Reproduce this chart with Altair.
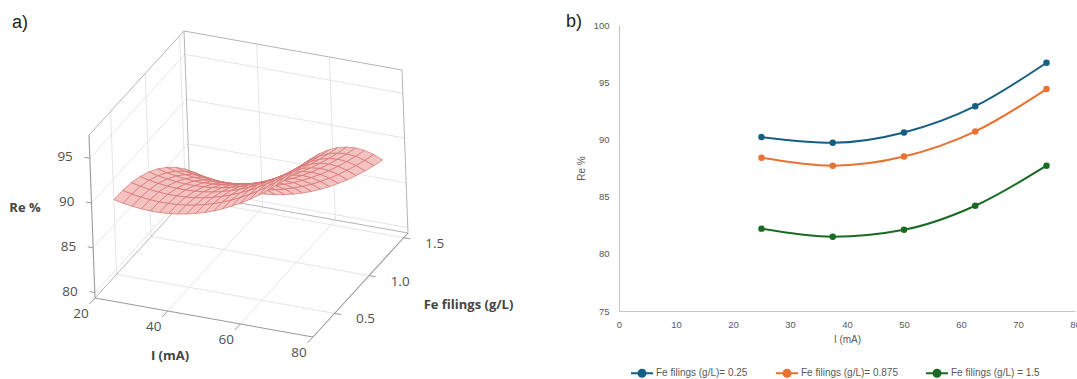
import altair as alt
import pandas as pd

# ---------------- data ----------------
# panel b: Re % versus current at three Fe filings doses
current_mA = [25, 37.5, 50, 62.5, 75]
series_names = ["Fe filings (g/L)= 0.25", "Fe filings (g/L)= 0.875", "Fe filings (g/L) = 1.5"]
re_fe_025 = [90.2, 89.7, 90.6, 92.9, 96.7]
re_fe_0875 = [88.4, 87.7, 88.5, 90.7, 94.4]
re_fe_150 = [82.2, 81.5, 82.1, 84.2, 87.7]
series_colors = ["#156082", "#e97132", "#196b24"]

# panel a: response surface grid (rows = Fe filings, columns = current)
surf_current = [25, 27.5, 30, 32.5, 35, 37.5, 40, 42.5, 45, 47.5, 50,
                52.5, 55, 57.5, 60, 62.5, 65, 67.5, 70, 72.5, 75]
surf_fe = [0.25, 0.375, 0.5, 0.625, 0.75, 0.875, 1.0, 1.125, 1.25, 1.375, 1.5]
surf_re = [
    [90.22, 90.00, 89.84, 89.73, 89.68, 89.69, 89.76, 89.88, 90.07, 90.30, 90.60, 90.95, 91.37, 91.83, 92.36, 92.94, 93.58, 94.28, 95.04, 95.85, 96.72],
    [90.19, 89.96, 89.80, 89.69, 89.63, 89.64, 89.70, 89.82, 89.99, 90.23, 90.52, 90.87, 91.27, 91.74, 92.26, 92.84, 93.47, 94.17, 94.92, 95.72, 96.59],
    [90.00, 89.77, 89.60, 89.49, 89.42, 89.43, 89.48, 89.60, 89.76, 89.99, 90.28, 90.63, 91.02, 91.49, 92.00, 92.58, 93.20, 93.90, 94.64, 95.44, 96.30],
    [89.63, 89.39, 89.22, 89.10, 89.03, 89.03, 89.08, 89.19, 89.35, 89.58, 89.86, 90.20, 90.59, 91.05, 91.56, 92.13, 92.75, 93.44, 94.18, 94.97, 95.83],
    [89.08, 88.84, 88.66, 88.54, 88.46, 88.46, 88.50, 88.61, 88.76, 88.99, 89.26, 89.60, 89.98, 90.44, 90.94, 91.51, 92.12, 92.81, 93.54, 94.33, 95.18],
    [88.37, 88.12, 87.94, 87.81, 87.73, 87.72, 87.76, 87.86, 88.01, 88.23, 88.50, 88.83, 89.21, 89.66, 90.16, 90.72, 91.33, 92.01, 92.74, 93.52, 94.37],
    [87.48, 87.23, 87.04, 86.91, 86.82, 86.81, 86.84, 86.94, 87.08, 87.30, 87.56, 87.89, 88.26, 88.71, 89.20, 89.76, 90.36, 91.04, 91.76, 92.54, 93.38],
    [86.43, 86.17, 85.98, 85.84, 85.75, 85.73, 85.76, 85.85, 85.99, 86.20, 86.46, 86.78, 87.15, 87.59, 88.08, 88.63, 89.23, 89.90, 90.62, 91.39, 92.23],
    [85.20, 84.94, 84.74, 84.60, 84.50, 84.48, 84.50, 84.59, 84.72, 84.92, 85.18, 85.50, 85.86, 86.30, 86.78, 87.33, 87.92, 88.59, 89.30, 90.07, 90.90],
    [83.79, 83.52, 83.32, 83.17, 83.07, 83.04, 83.06, 83.14, 83.27, 83.47, 83.72, 84.03, 84.39, 84.82, 85.30, 85.84, 86.43, 87.09, 87.80, 88.56, 89.39],
    [82.22, 81.95, 81.74, 81.59, 81.48, 81.45, 81.46, 81.54, 81.66, 81.86, 82.10, 82.41, 82.76, 83.19, 83.66, 84.20, 84.78, 85.44, 86.14, 86.90, 87.72],
]

# 3-D box of panel a
box_current = [20, 80]
box_fe = [0.1875, 1.5625]
box_re = [79.4, 97.6]
ticks_current = [20, 40, 60, 80]
ticks_fe = [0.5, 1.0, 1.5]
ticks_re = [80, 85, 90, 95]

# ---------------- 3-D projection (layout) ----------------
ORIGIN = (95.0, 298.0)
U_I = (218.0 / 60, 39.0 / 60)
U_FE = (95.0 / 1.375, -104.0 / 1.375)
U_RE = (-6.0 / 18.2, -163.0 / 18.2)
I0, I1 = box_current
F0, F1 = box_fe
Z0, Z1 = box_re


def proj(i, f, z):
    di, dfe, dz = i - I0, f - F0, z - Z0
    return (ORIGIN[0] + di * U_I[0] + dfe * U_FE[0] + dz * U_RE[0],
            ORIGIN[1] + di * U_I[1] + dfe * U_FE[1] + dz * U_RE[1])


segs = []


def seg(kind, p, q):
    (xa, ya), (xb, yb) = proj(*p), proj(*q)
    segs.append(dict(kind=kind, x=xa, y=ya, x2=xb, y2=yb))


for i in ticks_current[1:-1]:
    seg("grid", (i, F1, Z0), (i, F1, Z1))
    seg("grid", (i, F0, Z0), (i, F1, Z0))
for f in ticks_fe:
    seg("grid", (I0, f, Z0), (I0, f, Z1))
    seg("grid", (I0, f, Z0), (I1, f, Z0))
for z in ticks_re:
    seg("grid", (I0, F1, z), (I1, F1, z))
    seg("grid", (I0, F0, z), (I0, F1, z))
seg("edge", (I0, F0, Z1), (I0, F1, Z1))
seg("edge", (I0, F1, Z1), (I1, F1, Z1))
seg("edge", (I0, F1, Z0), (I0, F1, Z1))
seg("edge", (I1, F1, Z0), (I1, F1, Z1))
seg("edge", (I0, F1, Z0), (I1, F1, Z0))
seg("edge", (I0, F0, Z0), (I0, F1, Z0))
seg("axis", (I1, F0, Z0), (I1, F1, Z0))
seg("axis", (I0, F0, Z0), (I0, F0, Z1))
seg("axis", (I0, F0, Z0), (I1, F0, Z0))
for z in ticks_re:
    seg("tick", (I0, F0, z), (I0 - 1.5, F0, z))
for i in ticks_current:
    seg("tick", (i, F0, Z0), (i, F0 - 0.08, Z0))
for f in ticks_fe:
    seg("tick", (I1, f, Z0), (I1 + 1.8, f, Z0))
segs_df = pd.DataFrame(segs)

# surface cells, painted back to front
cells = []
for j in range(len(surf_fe) - 1):
    for i in range(len(surf_current) - 1):
        ic = (surf_current[i] + surf_current[i + 1]) / 2
        fc = (surf_fe[j] + surf_fe[j + 1]) / 2
        cells.append((proj(ic, fc, Z0)[1], i, j))
cells.sort()
rows = []
for rank, (_, i, j) in enumerate(cells):
    for k, (a, b) in enumerate([(i, j), (i + 1, j), (i + 1, j + 1), (i, j + 1), (i, j)]):
        x, y = proj(surf_current[a], surf_fe[b], surf_re[b][a])
        rows.append(dict(cell=f"c{rank:04d}", k=k, x=x, y=y))
surf_df = pd.DataFrame(rows)

# labels of panel a
tick_lab = []
for z in ticks_re:
    x, y = proj(I0, F0, z)
    tick_lab.append(dict(x=x - 17, y=y - 1, text=str(z), al="right"))
for i in ticks_current:
    x, y = proj(i, F0, Z0)
    tick_lab.append(dict(x=x - 14, y=y + 16, text=str(i), al="center"))
for f in ticks_fe:
    x, y = proj(I1, f, Z0)
    tick_lab.append(dict(x=x + 31, y=y + 6, text=f"{f:.1f}", al="center"))
tick_df = pd.DataFrame(tick_lab)

tx, ty = proj(I0, F0, (Z0 + Z1) / 2)
ix, iy = proj((I0 + I1) / 2, F0, Z0)
fx, fy = proj(I1, (F0 + F1) / 2, Z0)
title_df = pd.DataFrame([
    dict(x=tx - 67, y=ty - 9, text="Re %"),
    dict(x=ix - 34, y=iy + 38, text="I (mA)"),
    dict(x=fx + 108, y=fy + 20, text="Fe filings (g/L)"),
])
panel_lab_df = pd.DataFrame([dict(x=20, y=23, text="a)"), dict(x=574, y=22, text="b)")])

# ---------------- charts ----------------
PX = alt.X("x:Q", scale=alt.Scale(domain=[619, 1075], nice=False, zero=False), axis=None)
PY = alt.Y("y:Q", scale=alt.Scale(domain=[311, 25], nice=False, zero=False), axis=None)


def rules(kind, color, width):
    return alt.Chart(segs_df).transform_filter(alt.datum.kind == kind).mark_rule(
        color=color, strokeWidth=width).encode(x=PX, y=PY, x2="x2:Q", y2="y2:Q")


surface = alt.Chart(surf_df).mark_line(
    fill="#f3c3c1", stroke="#d5716f", strokeWidth=0.7, strokeJoin="round"
).encode(x=PX, y=PY, detail="cell:N", order=alt.Order("k:Q"))

tick_r = alt.Chart(tick_df).transform_filter(alt.datum.al == "right").mark_text(
    align="right", baseline="middle", font="Open Sans", fontSize=13.5, color="#505050"
).encode(x=PX, y=PY, text="text:N")
tick_c = alt.Chart(tick_df).transform_filter(alt.datum.al == "center").mark_text(
    align="center", baseline="middle", font="Open Sans", fontSize=13.5, color="#505050"
).encode(x=PX, y=PY, text="text:N")
titles_a = alt.Chart(title_df).mark_text(
    align="center", baseline="middle", font="Open Sans", fontSize=13, fontWeight="bold", color="#444444"
).encode(x=PX, y=PY, text="text:N")
panel_labels = alt.Chart(panel_lab_df).mark_text(
    align="center", baseline="middle", font="Liberation Sans", fontSize=18, color="#222222"
).encode(x=PX, y=PY, text="text:N")

panel_a = alt.layer(
    rules("grid", "#dedede", 0.8),
    rules("edge", "#b4b4b4", 1.0),
    rules("axis", "#9a9a9a", 1.1),
    rules("tick", "#9a9a9a", 1.0),
    surface, tick_r, tick_c, titles_a, panel_labels,
)

# panel b
dfb = pd.DataFrame({
    "I": current_mA * 3,
    "Re": re_fe_025 + re_fe_0875 + re_fe_150,
    "series": [series_names[0]] * 5 + [series_names[1]] * 5 + [series_names[2]] * 5,
})
axis_style = dict(grid=False, ticks=False, domainColor="#c4c4c4", domainWidth=1,
                  labelColor="#595959", labelFont="Liberation Sans", labelFontSize=9.5,
                  titleColor="#595959", titleFont="Liberation Sans", titleFontSize=10,
                  titleFontWeight="normal", labelFlush=False, labelOverlap=False)
xb = alt.X("I:Q", scale=alt.Scale(domain=[0, 80], nice=False, zero=False),
           axis=alt.Axis(values=[0, 10, 20, 30, 40, 50, 60, 70, 80], title="I (mA)",
                         labelPadding=8, titlePadding=6, **axis_style))
yb = alt.Y("Re:Q", scale=alt.Scale(domain=[75, 100], nice=False, zero=False),
           axis=alt.Axis(values=[75, 80, 85, 90, 95, 100], title="Re %",
                         labelPadding=10, titlePadding=7, **axis_style))
legend = alt.Legend(
    title=None, orient="none", legendX=11, legendY=336, direction="horizontal",
    symbolType="M-1,0L1,0M-0.32,0A0.32,0.32,0,1,0,0.32,0A0.32,0.32,0,1,0,-0.32,0Z",
    symbolSize=484, symbolStrokeWidth=2, labelFont="Liberation Sans", labelFontSize=10,
    labelColor="#595959", labelOffset=2, columnPadding=24, padding=0, labelLimit=300,
)
colb = alt.Color("series:N", scale=alt.Scale(domain=series_names, range=series_colors), legend=legend)
base_b = alt.Chart(dfb).encode(x=xb, y=yb, color=colb)
panel_b = alt.layer(
    base_b.mark_line(interpolate="monotone", strokeWidth=2),
    base_b.mark_point(filled=True, size=42, opacity=1),
)

chart = alt.layer(panel_a, panel_b).resolve_scale(x="independent", y="independent").properties(
    width=456, height=286,
    autosize=alt.AutoSizeParams(type="none"),
    padding={"left": 619, "top": 25, "right": 2, "bottom": 68},
    background="white",
).configure_view(stroke="transparent")

chart.save("out.html", embed_options={"renderer": "svg", "actions": False})
